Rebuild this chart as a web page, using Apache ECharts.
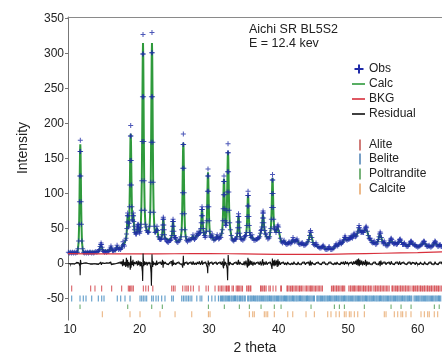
<!DOCTYPE html>
<html>
<head>
<meta charset="utf-8">
<script src="https://cdn.jsdelivr.net/npm/echarts@6/dist/echarts.min.js"></script>
<style>
html, body { margin: 0; padding: 0; background: #fff; }
#chart { width: 442px; height: 360px; }
</style>
</head>
<body>
<div id="chart"></div>
<script>
// observed intensity [2theta, counts]
const obsPoints = [
  [9.75,16],[9.9,15],[10.05,16],[10.2,15],[10.35,16],[10.5,15],[10.65,16],[10.8,15],[10.95,16],[11.05,16],
  [11.13,21],[11.23,32],[11.3,56],[11.35,88],[11.39,125],[11.43,160],[11.47,176],[11.51,160],[11.55,125],[11.59,88],[11.64,56],[11.71,32],[11.81,21],
  [11.92,16],[12.05,15],[12.2,16],[12.35,15],[12.5,16],[12.65,15],[12.8,16],[12.95,16],[13.1,15],[13.25,16],[13.4,15],[13.55,16],[13.7,17],[13.85,16],[14.0,17],[14.12,18],
  [14.22,20],[14.32,24],[14.4,27],[14.46,29],[14.53,27],[14.6,23],[14.68,19],
  [14.8,17],[14.95,16],[15.1,17],[15.25,16],[15.4,17],[15.55,17],[15.68,19],
  [15.78,22],[15.88,25],[15.98,22],
  [16.1,18],[16.25,18],[16.4,19],[16.55,19],
  [16.67,22],[16.76,26],[16.85,23],
  [16.98,20],[17.12,21],[17.26,20],[17.4,22],
  [17.52,25],[17.61,31],[17.7,27],
  [17.82,25],[17.95,33],[18.05,36],
  [18.12,42],[18.17,50],[18.21,59],[18.25,68],[18.29,72],[18.33,68],[18.37,59],[18.42,52],
  [18.48,57],[18.55,81],[18.6,112],[18.64,147],[18.68,182],[18.72,197],[18.76,182],[18.8,147],[18.84,112],[18.89,81],[18.95,62],
  [19.0,62],[19.05,68],[19.09,72],[19.13,68],[19.17,60],[19.21,53],[19.26,48],[19.33,44],[19.43,42],
  [19.55,42],[19.62,45],[19.67,49],[19.71,52],[19.74,55],[19.77,56],[19.81,55],[19.85,52],[19.89,49],[19.94,45],[20.01,43],
  [20.07,46],[20.13,51],[20.18,56],[20.25,76],[20.32,118],[20.37,174],[20.41,238],[20.45,299],[20.49,327],[20.53,299],[20.57,238],[20.61,174],[20.66,118],[20.73,76],[20.83,56],
  [20.93,52],[21.03,47],[21.13,45],[21.23,44],[21.33,45],
  [21.44,53],[21.54,73],[21.61,116],[21.66,173],[21.7,238],[21.74,301],[21.78,330],[21.82,301],[21.86,238],[21.9,173],[21.95,116],[22.02,73],[22.12,53],
  [22.22,44],[22.32,45],
  [22.42,48],[22.5,53],[22.58,47],
  [22.7,38],[22.85,35],[22.97,34],[23.07,34],
  [23.17,36],[23.24,41],[23.29,48],[23.33,55],[23.37,63],[23.41,66],[23.45,63],[23.49,55],[23.53,48],[23.58,41],[23.65,36],[23.75,34],
  [23.87,32],[24.0,31],[24.12,30],[24.25,32],[24.37,33],
  [24.47,33],[24.57,35],[24.64,40],[24.69,46],[24.73,53],[24.77,60],[24.81,63],[24.85,60],[24.89,53],[24.93,46],[24.98,40],[25.05,37],
  [25.15,37],[25.22,36],[25.35,31],[25.5,30],[25.65,32],[25.8,34],
  [25.95,38],[26.05,48],[26.12,71],[26.17,101],[26.21,136],[26.25,170],[26.29,185],[26.33,170],[26.37,136],[26.41,101],[26.46,71],[26.53,48],[26.63,38],
  [26.75,33],[26.88,31],[27.0,33],[27.12,35],[27.25,33],[27.4,34],
  [27.58,37],[27.68,41],[27.78,36],
  [27.9,34],[28.02,36],
  [28.16,39],[28.26,43],[28.36,40],
  [28.47,42],[28.55,46],[28.63,43],
  [28.74,44],[28.81,50],[28.86,58],[28.9,68],[28.94,77],[28.98,81],[29.02,77],[29.06,68],[29.1,58],[29.15,50],[29.22,44],[29.32,40],
  [29.42,37],[29.5,39],[29.6,46],[29.67,61],[29.72,81],[29.76,103],[29.8,125],[29.84,135],[29.88,125],[29.92,103],[29.96,81],[30.01,61],[30.08,46],[30.18,39],
  [30.28,37],[30.36,39],[30.44,42],[30.53,37],
  [30.68,33],[30.85,34],[31.0,36],
  [31.08,38],[31.16,41],[31.26,37],[31.38,35],
  [31.5,36],[31.58,39],[31.68,37],
  [31.8,43],[31.9,48],[31.97,61],[32.02,78],[32.06,98],[32.1,117],[32.14,125],[32.18,117],[32.22,98],[32.26,78],[32.31,61],[32.38,55],
  [32.43,54],[32.48,58],[32.55,76],[32.6,102],[32.64,131],[32.68,158],[32.72,171],[32.76,158],[32.8,131],[32.84,102],[32.89,76],[32.96,58],[33.06,48],[33.18,40],
  [33.3,35],[33.42,33],[33.55,32],[33.68,34],[33.8,35],
  [33.89,35],[33.99,38],[34.06,43],[34.11,51],[34.15,59],[34.19,67],[34.23,71],[34.27,67],[34.31,59],[34.35,51],[34.4,43],[34.47,38],[34.57,35],
  [34.7,34],[34.85,33],
  [35.0,35],[35.1,38],[35.18,39],
  [35.26,40],[35.36,44],[35.43,54],[35.48,67],[35.52,82],[35.56,97],[35.6,103],[35.64,97],[35.68,82],[35.72,67],[35.77,54],[35.84,44],[35.94,40],
  [36.05,37],[36.17,41],[36.28,36],
  [36.45,33],[36.62,33],[36.8,34],
  [36.95,35],[37.04,37],[37.14,36],
  [37.28,38],[37.38,43],[37.46,47],
  [37.52,48],[37.59,52],[37.64,58],[37.68,65],[37.72,72],[37.76,75],[37.8,72],[37.84,65],[37.88,58],[37.93,52],[38.0,47],
  [38.1,42],[38.19,42],[38.3,38],
  [38.45,35],[38.6,36],[38.7,38],
  [38.78,44],[38.88,50],[38.95,63],[39.0,80],[39.04,100],[39.08,119],[39.12,127],[39.16,119],[39.2,100],[39.24,80],[39.29,63],[39.36,52],
  [39.44,48],[39.5,49],
  [39.62,44],[39.73,48],[39.83,53],[39.91,55],[39.99,52],[40.1,44],[40.25,36],
  [40.4,31],[40.55,29],
  [40.68,31],[40.78,33],[40.88,30],
  [41.02,28],[41.18,27],[41.32,28],
  [41.42,29],[41.5,31],[41.6,29],
  [41.75,28],[41.88,30],
  [41.97,33],[42.07,37],[42.17,34],
  [42.3,31],[42.45,32],
  [42.56,33],[42.65,35],[42.75,32],
  [42.9,28],[43.05,27],[43.2,28],
  [43.3,28],[43.38,30],[43.48,28],
  [43.62,26],[43.78,26],[43.92,27],[44.05,29],[44.2,31],
  [44.35,34],[44.45,40],[44.53,45],[44.59,47],[44.66,44],[44.78,37],[44.92,30],
  [45.05,27],[45.2,26],
  [45.3,27],[45.38,29],[45.48,27],
  [45.62,24],[45.78,23],[45.92,22],[46.08,22],[46.22,23],
  [46.32,24],[46.4,26],[46.5,24],
  [46.65,21],[46.8,20],[46.95,20],[47.1,21],
  [47.18,22],[47.26,24],[47.35,22],
  [47.5,20],[47.65,20],[47.8,21],[47.95,22],[48.08,24],
  [48.18,26],[48.27,28],[48.36,26],
  [48.5,25],[48.62,27],
  [48.74,29],[48.83,32],[48.92,29],
  [49.05,28],[49.18,30],[49.3,32],
  [49.4,34],[49.48,37],[49.55,39],[49.62,37],[49.72,34],
  [49.85,33],
  [50.02,34],[50.13,37],[50.22,35],
  [50.3,36],
  [50.36,37],[50.42,39],[50.5,37],
  [50.6,36],
  [50.7,38],[50.78,41],[50.85,43],[50.93,41],[51.05,38],
  [51.18,39],[51.3,43],
  [51.4,46],[51.5,51],[51.57,54],[51.64,51],[51.74,47],
  [51.85,44],
  [51.93,45],[52.0,46],[52.1,44],
  [52.22,44],[52.32,47],
  [52.42,49],[52.5,51],[52.58,53],[52.65,51],[52.76,46],
  [52.9,40],[53.02,36],
  [53.1,35],[53.18,36],[53.28,33],
  [53.42,30],[53.55,29],
  [53.65,30],[53.74,32],[53.84,29],
  [53.98,27],[54.12,28],[54.25,31],
  [54.35,34],[54.44,38],[54.52,42],[54.6,45],[54.67,43],[54.78,37],[54.92,31],
  [55.05,28],
  [55.12,30],[55.19,32],[55.28,29],
  [55.42,26],[55.58,25],[55.72,26],[55.85,28],
  [55.95,30],[56.05,33],[56.13,35],[56.2,36],[56.28,34],[56.4,30],
  [56.52,28],
  [56.66,28],[56.75,30],[56.85,28],
  [56.98,27],[57.1,28],
  [57.22,30],[57.32,32],[57.41,34],[57.48,35],[57.56,33],[57.68,30],
  [57.82,27],[57.95,27],
  [58.02,28],[58.1,29],[58.2,27],
  [58.35,25],[58.5,24],[58.65,25],[58.8,27],
  [58.88,29],[58.97,31],[59.05,32],[59.12,31],[59.22,29],
  [59.35,27],
  [59.55,26],[59.64,27],[59.74,25],
  [59.88,24],[60.02,23],[60.16,24],[60.3,25],[60.45,26],
  [60.62,27],[60.72,29],[60.82,31],[60.9,32],[60.98,31],[61.1,28],
  [61.25,25],[61.4,24],
  [61.56,25],[61.65,26],[61.75,24],
  [61.9,23],[62.05,24],[62.2,26],
  [62.3,28],[62.4,30],[62.48,32],[62.56,31],[62.66,29],[62.78,26],
  [62.92,24],[63.05,25],
  [63.15,26],[63.23,27],[63.32,25],
  [63.45,24],[63.6,24]
];

// calculated profile
const calcPoints = [
  [9.75,15.5],[11.05,16],
  [11.13,20],[11.23,31],[11.3,55],[11.35,88],[11.39,126],[11.43,158],[11.47,170],[11.51,156],[11.55,122],[11.59,86],[11.64,55],[11.71,31],[11.81,20],
  [11.92,16],[14.12,17],
  [14.22,20],[14.32,23],[14.4,26],[14.46,28],[14.53,26],[14.6,22],[14.68,18.5],
  [14.8,16.5],[15.68,18],
  [15.78,21],[15.88,24],[15.98,21],
  [16.1,18],[16.55,18.5],
  [16.67,21],[16.76,25],[16.85,22],
  [16.98,19.5],[17.4,21],
  [17.52,25],[17.61,29],[17.7,26],
  [17.82,25],[17.95,32],[18.05,35],
  [18.12,41],[18.17,49],[18.21,58],[18.25,66],[18.29,70],[18.33,66],[18.37,58],[18.42,51],
  [18.48,56],[18.55,80],[18.6,112],[18.64,146],[18.68,176],[18.72,185],[18.76,174],[18.8,144],[18.84,110],[18.89,80],[18.95,61],
  [19.0,61],[19.05,67],[19.09,70],[19.13,66],[19.17,59],[19.21,52],[19.26,47],[19.33,43],[19.43,41],
  [19.55,41],[19.62,44],[19.67,48],[19.71,51],[19.74,53],[19.77,54],[19.81,53],[19.85,51],[19.89,48],[19.94,44],[20.01,42],
  [20.07,45],[20.13,50],[20.18,57],[20.25,79],[20.32,122],[20.37,178],[20.41,238],[20.45,292],[20.49,315],[20.53,292],[20.57,236],[20.61,176],[20.66,120],[20.73,78],[20.83,56],
  [20.93,51],[21.03,46],[21.13,44],[21.23,43],[21.33,44],
  [21.44,54],[21.54,75],[21.61,120],[21.66,178],[21.7,240],[21.74,292],[21.78,315],[21.82,292],[21.86,238],[21.9,176],[21.95,118],[22.02,74],[22.12,53],
  [22.22,43],[22.32,44],
  [22.42,47],[22.5,51],[22.58,46],
  [22.7,37],[23.07,34],
  [23.17,36],[23.24,41],[23.29,47],[23.33,54],[23.37,61],[23.41,64],[23.45,61],[23.49,54],[23.53,47],[23.58,40],[23.65,36],[23.75,34],
  [24.37,33],
  [24.47,33],[24.57,35],[24.64,40],[24.69,46],[24.73,52],[24.77,58],[24.81,61],[24.85,58],[24.89,52],[24.93,45],[24.98,40],[25.05,37],
  [25.15,36],[25.22,35],[25.35,31],[25.8,33],
  [25.95,38],[26.05,48],[26.12,70],[26.17,100],[26.21,134],[26.25,162],[26.29,172],[26.33,162],[26.37,132],[26.41,99],[26.46,70],[26.53,48],[26.63,38],
  [26.75,33],[27.4,34],
  [27.58,36],[27.68,40],[27.78,35],
  [27.9,34],[28.02,35],
  [28.16,38],[28.26,42],[28.36,39],
  [28.47,41],[28.55,45],[28.63,42],
  [28.74,43],[28.81,49],[28.86,57],[28.9,66],[28.94,74],[28.98,78],[29.02,74],[29.06,66],[29.1,57],[29.15,49],[29.22,43],[29.32,39],
  [29.42,37],[29.5,39],[29.6,46],[29.67,61],[29.72,82],[29.76,104],[29.8,123],[29.84,130],[29.88,122],[29.92,101],[29.96,80],[30.01,60],[30.08,46],[30.18,39],
  [30.28,36],[30.36,38],[30.44,41],[30.53,36],
  [30.68,33],[31.0,35],
  [31.08,37],[31.16,40],[31.26,36],[31.38,34],
  [31.5,35],[31.58,38],[31.68,36],
  [31.8,42],[31.9,48],[31.97,61],[32.02,79],[32.06,99],[32.1,116],[32.14,121],[32.18,114],[32.22,96],[32.26,77],[32.31,61],[32.38,55],
  [32.43,54],[32.48,58],[32.55,77],[32.6,103],[32.64,130],[32.68,152],[32.72,160],[32.76,150],[32.8,127],[32.84,100],[32.89,75],[32.96,58],[33.06,48],[33.18,40],
  [33.3,35],[33.55,32],[33.8,35],
  [33.89,35],[33.99,38],[34.06,43],[34.11,50],[34.15,58],[34.19,65],[34.23,68],[34.27,65],[34.31,58],[34.35,50],[34.4,43],[34.47,38],[34.57,35],
  [34.7,34],[34.85,33],
  [35.0,35],[35.1,37],[35.18,38],
  [35.26,40],[35.36,44],[35.43,54],[35.48,66],[35.52,80],[35.56,93],[35.6,98],[35.64,93],[35.68,80],[35.72,66],[35.77,54],[35.84,44],[35.94,40],
  [36.05,36],[36.17,40],[36.28,35],
  [36.45,33],[36.8,34],
  [36.95,35],[37.04,36],[37.14,35],
  [37.28,38],[37.38,42],[37.46,46],
  [37.52,47],[37.59,51],[37.64,57],[37.68,64],[37.72,70],[37.76,72],[37.8,70],[37.84,64],[37.88,57],[37.93,51],[38.0,46],
  [38.1,41],[38.19,41],[38.3,37],
  [38.45,35],[38.7,37],
  [38.78,44],[38.88,50],[38.95,63],[39.0,80],[39.04,99],[39.08,116],[39.12,122],[39.16,115],[39.2,97],[39.24,78],[39.29,62],[39.36,51],
  [39.44,47],[39.5,48],
  [39.62,44],[39.73,47],[39.83,52],[39.91,53],[39.99,51],[40.1,43],[40.25,35],
  [40.4,30],[40.55,29],
  [40.68,30],[40.78,32],[40.88,30],[41.18,27.5],[41.42,29],[41.5,30],[41.6,28.5],[41.88,29.5],
  [41.97,33],[42.07,35],[42.17,33],[42.3,31],[42.45,31.5],[42.56,33],[42.65,34],[42.75,32],[42.9,28.5],
  [43.2,28],[43.3,28],[43.38,29],[43.48,27.5],[43.78,26.5],[44.05,28.5],[44.2,30.5],
  [44.35,34],[44.45,40],[44.53,44],[44.59,45],[44.66,43],[44.78,37],[44.92,30],
  [45.2,26],[45.3,27],[45.38,28],[45.48,26.5],[45.78,23],[46.08,22.5],[46.22,23],
  [46.32,24],[46.4,25],[46.5,23.5],[46.8,20.5],[47.1,21],[47.18,22],[47.26,23],[47.35,21.5],
  [47.65,20.5],[47.95,22],[48.08,24],[48.18,26],[48.27,27],[48.36,25.5],[48.5,25],[48.62,27],
  [48.74,29],[48.83,31],[48.92,29],[49.05,28],[49.3,31.5],
  [49.4,34],[49.48,36.5],[49.55,38],[49.62,36.5],[49.72,34],[49.85,33],
  [50.02,34],[50.13,36],[50.22,35],[50.3,35.5],[50.36,36.5],[50.42,38],[50.5,36.5],[50.6,36],
  [50.7,38],[50.78,40],[50.85,42],[50.93,40.5],[51.05,38],[51.18,39],[51.3,42],
  [51.4,45],[51.5,50],[51.57,52],[51.64,50],[51.74,46.5],[51.85,44],
  [51.93,44.5],[52.0,45],[52.1,44],[52.22,44],[52.32,46.5],
  [52.42,48.5],[52.5,50],[52.58,51],[52.65,50],[52.76,45.5],[52.9,40],[53.02,36],
  [53.1,35],[53.18,35.5],[53.28,33],[53.55,29],[53.65,30],[53.74,31],[53.84,29],[53.98,27.5],[54.25,30.5],
  [54.35,34],[54.44,38],[54.52,41.5],[54.6,43.5],[54.67,42],[54.78,37],[54.92,31],
  [55.05,28.5],[55.12,30],[55.19,31],[55.28,29],[55.58,25.5],[55.85,28],
  [55.95,30],[56.05,33],[56.13,34.5],[56.2,35],[56.28,33.5],[56.4,30],[56.52,28.5],
  [56.66,28],[56.75,29.5],[56.85,28],[57.1,28],
  [57.22,30],[57.32,32],[57.41,33.5],[57.48,34],[57.56,32.5],[57.68,30],[57.82,27.5],
  [58.02,28],[58.1,28.5],[58.2,27],[58.5,24.5],[58.8,27],
  [58.88,29],[58.97,30.5],[59.05,31],[59.12,30.5],[59.22,29],[59.35,27],
  [59.55,26],[59.64,26.5],[59.74,25],[60.02,23.5],[60.3,25],[60.45,26],
  [60.62,27],[60.72,29],[60.82,30.5],[60.9,31],[60.98,30.5],[61.1,28],[61.25,25.5],[61.4,24.5],
  [61.56,25],[61.65,25.5],[61.75,24],[61.9,23.5],[62.2,26],
  [62.3,28],[62.4,30],[62.48,31],[62.56,30.5],[62.66,29],[62.78,26.5],[62.92,24.5],
  [63.05,25],[63.15,26],[63.23,26.5],[63.32,25],[63.6,24.5]
];

// background
const bkgPoints = [
  [9.7,14],[15,13.5],[20,13.5],[25,13.8],[30,14],[35,13.5],[40,13],[45,13],[50,13.5],[55,14.5],[60,15.5],[64,16.5]
];

// obs - calc
const diffPoints = [
  [9.75,0],[9.9,1],[10.05,-1],[10.2,0.5],[10.35,-0.5],[10.5,1],[10.65,-1],[10.8,0],[10.95,1.5],[11.1,-0.5],
  [11.25,1],[11.35,3],[11.42,-4],[11.45,-17],[11.47,-8],[11.49,5],[11.53,3],[11.6,-1],[11.7,1],[11.85,-1],
  [12.0,0.5],[12.15,-1],[12.3,1],[12.45,-1.5],[12.6,0],[12.75,1],[12.9,-1],[13.05,0.5],[13.2,-1],[13.35,1],
  [13.5,-0.5],[13.65,1],[13.8,-1],[13.95,0.5],[14.1,-1.5],[14.25,1],[14.4,2],[14.5,-2],[14.62,1],[14.8,-1],
  [14.95,0],[15.1,-1],[15.25,1],[15.4,-0.5],[15.55,0.5],[15.7,-1],[15.85,2],[15.95,-2],[16.1,0.5],[16.25,-1],
  [16.4,1],[16.55,-0.5],[16.7,2],[16.8,-2],[16.95,1],[17.1,-1],[17.25,2],[17.35,-1],[17.45,3],[17.55,-4],
  [17.65,6],[17.75,-3],[17.9,2],[18.0,-5],[18.1,8],[18.2,-4],[18.27,5],[18.33,-6],[18.45,2],[18.6,-3],
  [18.66,-9],[18.7,6],[18.73,11],[18.76,-6],[18.85,3],[18.95,-2],[19.05,5],[19.12,-4],[19.25,2],[19.4,-1],
  [19.55,3],[19.7,-3],[19.8,4],[19.9,-2],[20.05,3],[20.15,-4],[20.25,2],[20.33,-6],[20.4,-12],[20.44,-25],
  [20.47,-8],[20.5,14],[20.54,6],[20.6,-4],[20.7,3],[20.8,-2],[20.95,2],[21.1,-3],[21.2,2],[21.35,-1],
  [21.48,2],[21.58,-5],[21.65,-14],[21.7,-32],[21.74,-10],[21.78,13],[21.82,5],[21.88,-5],[21.95,3],[22.05,-2],
  [22.2,1],[22.35,-3],[22.45,4],[22.55,-2],[22.7,1],[22.85,-1],[23.0,2],[23.15,-2],[23.3,5],[23.38,-6],
  [23.45,3],[23.55,-1],[23.7,2],[23.85,-1],[24.0,1],[24.15,-2],[24.3,1],[24.45,-1],[24.6,3],[24.7,-4],
  [24.8,5],[24.9,-2],[25.05,1],[25.2,-2],[25.35,1],[25.5,-1],[25.65,2],[25.8,-1],[25.95,1],[26.1,-2],
  [26.2,-6],[26.26,4],[26.29,11],[26.33,2],[26.4,-3],[26.5,1],[26.65,-1],[26.8,2],[26.95,-2],[27.1,1],
  [27.25,-1],[27.4,2],[27.55,-2],[27.7,3],[27.85,-2],[28.0,1],[28.15,-2],[28.3,2],[28.45,-1],[28.6,3],
  [28.75,-2],[28.9,-4],[28.98,4],[29.05,-2],[29.2,1],[29.35,-1],[29.5,2],[29.65,-3],[29.75,-6],[29.8,-14],
  [29.86,4],[29.95,-2],[30.1,1],[30.25,-1],[30.4,2],[30.55,-2],[30.7,1],[30.85,-1],[31.0,2],[31.15,-2],
  [31.3,1],[31.45,-1],[31.6,2],[31.75,-2],[31.9,3],[32.0,-4],[32.08,-7],[32.13,7],[32.2,-3],[32.35,2],
  [32.5,-3],[32.6,-8],[32.66,-24],[32.7,-6],[32.74,12],[32.8,3],[32.9,-3],[33.0,2],[33.15,-1],[33.3,1],
  [33.45,-2],[33.6,1],[33.75,-1],[33.9,2],[34.05,-2],[34.15,-4],[34.22,5],[34.3,-2],[34.45,2],[34.6,-1],
  [34.75,1],[34.9,-2],[35.05,3],[35.15,-3],[35.3,4],[35.42,-2],[35.52,-6],[35.58,8],[35.63,-4],[35.7,6],
  [35.8,-3],[35.95,4],[36.05,-2],[36.15,3],[36.3,-3],[36.45,2],[36.6,-2],[36.75,1],[36.9,-1],[37.05,2],
  [37.2,-2],[37.35,3],[37.5,-3],[37.62,-5],[37.7,6],[37.78,-3],[37.9,2],[38.05,-2],[38.2,3],[38.35,-2],
  [38.5,1],[38.65,-1],[38.8,2],[38.95,-3],[39.05,-8],[39.1,7],[39.15,-3],[39.25,4],[39.35,-4],[39.45,5],
  [39.55,-3],[39.7,4],[39.8,-5],[39.9,6],[40.0,-3],[40.12,3],[40.25,-2],[40.4,1],
  [40.55,-1.5],[40.7,2],[40.85,-2],[41.0,1],[41.15,-2.5],[41.3,2],[41.45,-1],[41.6,1.5],[41.75,-2],[41.9,1],
  [42.05,-2],[42.2,2.5],[42.35,-1],[42.5,1],[42.65,-2],[42.8,2],[42.95,-1.5],[43.1,1],[43.25,-2],[43.4,1.5],
  [43.55,-1],[43.7,2],[43.85,-2],[44.0,1],[44.15,-1],[44.3,2],[44.45,-3],[44.55,4],[44.65,-3],[44.8,2],
  [44.95,-1],[45.1,1.5],[45.25,-2],[45.4,1],[45.55,-1.5],[45.7,2],[45.85,-1],[46.0,1],[46.15,-2],[46.3,1.5],
  [46.45,-1],[46.6,2],[46.75,-1.5],[46.9,1],[47.05,-2],[47.2,1.5],[47.35,-1],[47.5,2],[47.65,-1],[47.8,1],
  [47.95,-2],[48.1,1.5],[48.25,-2],[48.4,2],[48.55,-1],[48.7,1],[48.85,-2],[49.0,2],[49.15,-1],[49.3,2.5],
  [49.45,-2],[49.6,3],[49.75,-1],[49.9,2],[50.05,-2],[50.2,1],[50.35,-1],[50.5,2],[50.65,-2],[50.8,3],
  [50.95,-1],[51.1,4],[51.2,-2],[51.3,6],[51.4,-3],[51.5,7],[51.6,-4],[51.7,5],[51.82,-2],[51.95,4],
  [52.08,-3],[52.2,3],[52.35,-2],[52.5,5],[52.6,-4],[52.72,3],[52.85,-2],[53.0,2],[53.15,-1.5],[53.3,1],
  [53.45,-2],[53.6,1.5],[53.75,-1],[53.9,2],[54.05,-1.5],[54.2,1],[54.35,-2],[54.5,3],[54.6,-4],[54.7,4],
  [54.85,-2],[55.0,1.5],[55.15,-1],[55.3,2],[55.45,-2],[55.6,1],[55.75,-1],[55.9,2],[56.05,-2],[56.2,3],
  [56.35,-1],[56.5,1],[56.65,-2],[56.8,1.5],[56.95,-1],[57.1,2],[57.25,-2],[57.4,3],[57.55,-2],[57.7,1],
  [57.85,-1.5],[58.0,2],[58.15,-1],[58.3,1],[58.45,-2],[58.6,1.5],[58.75,-1],[58.9,2],[59.05,-2],[59.2,1.5],
  [59.35,-1],[59.5,1],[59.65,-2],[59.8,2],[59.95,-1],[60.1,1],[60.25,-1.5],[60.4,2],[60.55,-1],[60.7,1],
  [60.85,-2],[61.0,2.5],[61.15,-1],[61.3,1],[61.45,-2],[61.6,1.5],[61.75,-1],[61.9,2],[62.05,-1.5],[62.2,1],
  [62.35,-2],[62.5,2.5],[62.65,-1],[62.8,1],[62.95,-2],[63.1,1.5],[63.25,-1],[63.4,2],[63.55,-1.5]
];

// reflection positions (2theta)
const aliteTicks = [
  10.23,12.96,13.58,14.54,15.98,17.42,18.38,18.55,18.72,18.9,19.1,20.54,20.89,21.26,21.9,24.62,24.86,25.1,
  26.2,26.54,26.8,27.01,27.36,27.73,28.55,29.56,29.89,30.85,31.33,31.57,
  31.8,32.0,32.3,32.5,32.6,32.8,32.9,33.3,33.5,33.9,34.1,34.2,34.4,34.6,34.8,35.4,35.6,35.7,35.9,36.0,
  37.4,37.5,37.7,37.9,38.0,38.2,38.6,38.8,39.2,39.6,
  40.3,40.4,41.2,41.3,41.5,41.7,41.9,42.0,42.2,42.4,42.6,42.8,43.0,43.1,43.3,43.5,43.8,44.0,44.2,44.4,
  44.6,44.7,44.9,45.1,45.3,45.5,45.7,45.9,46.1,46.3,
  47.6,47.8,47.9,48.1,48.3,48.4,48.6,48.8,49.0,49.2,49.3,49.5,
  50.1,50.3,50.4,50.6,50.8,50.9,51.1,51.3,51.5,51.6,51.8,52.0,52.2,52.3,52.5,52.7,52.9,53.0,53.2,53.4,
  53.7,53.9,54.0,54.2,54.4,54.6,54.7,54.9,55.1,55.3,55.5,55.7,55.9,
  56.3,56.4,56.6,56.8,57.0,57.1,57.3,57.5,57.6,57.8,58.0,58.2,58.3,58.5,58.7,58.9,
  59.2,59.4,59.5,59.7,59.9,60.0,60.2,60.4,60.5,60.7,60.9,61.0,61.2,61.4,61.5,61.7,61.9,62.0,62.2,62.4,
  62.5,62.7,62.9,63.0,63.2,63.4
];
const beliteTicks = [
  10.23,11.43,11.9,12.29,13.11,14.06,14.55,14.88,16.79,17.28,17.9,18.62,20.06,20.3,20.53,20.78,21.02,
  21.74,21.97,22.36,22.69,23.18,23.65,24.62,24.85,26.06,26.3,26.54,26.79,27.02,27.26,27.51,28.23,28.7,
  28.95,29.9,30.39,30.86,31.34,
  31.62,31.8,31.95,32.12,32.3,32.45,32.62,32.8,32.95,33.15,33.3,33.48,33.65,33.8,34.0,34.15,34.35,34.5,
  34.7,34.85,35.05,35.2,35.55,35.7,35.9,36.05,36.2,36.38,36.55,36.7,36.88,37.02,37.2,37.35,37.52,37.7,
  37.85,38.02,38.18,38.35,38.5,38.68,38.85,39.0,39.18,39.35,39.5,39.68,39.85,40.0,40.18,40.35,40.5,40.68,
  40.85,41.0,41.15,41.32,41.5,41.65,41.82,42.0,42.15,42.32,42.5,42.65,42.82,43.0,43.15,43.32,43.48,43.65,
  43.82,44.0,44.15,44.32,44.48,44.65,44.82,45.0,45.15,45.5,45.65,45.82,46.0,46.15,46.32,46.5,46.65,
  46.82,47.0,47.15,47.32,47.48,47.65,47.82,48.0,48.15,48.32,48.5,48.65,48.82,49.0,49.15,49.32,49.48,49.65,
  49.82,50.0,50.15,50.32,50.5,50.65,50.82,51.0,51.15,51.32,51.48,51.65,51.82,52.0,52.15,52.32,52.5,52.65,
  52.82,53.0,53.15,53.32,53.48,53.65,53.82,54.0,54.15,54.32,54.5,54.65,54.82,55.0,55.15,55.32,55.48,55.65,
  55.82,56.0,56.15,56.32,56.5,56.65,56.82,57.0,57.15,57.32,57.48,57.65,57.82,58.0,58.15,58.32,58.5,58.65,
  58.82,59.0,59.15,59.48,59.65,59.82,60.0,60.15,60.32,60.5,60.65,60.82,61.0,61.15,61.32,61.48,61.65,
  61.82,62.0,62.15,62.32,62.5,62.65,62.82,63.0,63.15,63.32
];
const poltranditeTicks = [
  11.43,18.29,21.74,23.27,29.9,32.19,34.35,35.79,37.47,39.38,40.35,44.66,48.02,48.74,49.46,52.33,56.17,
  57.61,59.05,62.4,63.1
];
const calciteTicks = [
  14.64,18.62,20.06,22.94,25.1,27.5,29.9,30.13,35.79,36.27,36.5,37.94,38.19,38.43,39.38,41.31,42.03,
  43.94,45.14,47.06,47.53,48.25,48.73,49.45,49.7,50.17,50.41,50.89,51.38,52.33,55.2,55.45,56.64,57.13,
  57.6,57.84,58.32,59.04,60.48,60.96,61.44,61.67,62.39,62.88
];

const xTickValues = [10, 20, 30, 40, 50, 60];
const yTickValues = [-50, 0, 50, 100, 150, 200, 250, 300, 350];

const FONT = '"Liberation Sans", Arial, sans-serif';
const plusPath = 'path://M2,0L3,0L3,2L5,2L5,3L3,3L3,5L2,5L2,3L0,3L0,2L2,2Z';
const X_MIN = 9.7, X_MAX = 63.5;

const tickSeries = (name, ticks, level, color, h) => ({
  name: name,
  type: 'scatter',
  data: ticks.map(t => [t, level]),
  symbol: 'rect',
  symbolSize: [1.1, h],
  itemStyle: { color: color },
  silent: true,
  z: 4
});

const chart = echarts.init(document.getElementById('chart'));
chart.setOption({
  animation: false,
  backgroundColor: '#fff',
  grid: { left: 68, right: 0, top: 17, bottom: 32 },
  xAxis: [
    {
      type: 'value',
      min: X_MIN, max: X_MAX,
      name: '2 theta',
      nameLocation: 'middle',
      nameGap: 17,
      nameTextStyle: { fontFamily: FONT, fontSize: 14, color: '#222' },
      axisLine: { show: true, lineStyle: { color: '#777' } },
      axisTick: { show: true, length: 3, customValues: xTickValues, lineStyle: { color: '#777' } },
      axisLabel: { customValues: xTickValues, margin: 4, fontFamily: FONT, fontSize: 12, color: '#222' },
      splitLine: { show: false }
    },
    {
      type: 'value', position: 'top',
      min: X_MIN, max: X_MAX,
      axisLine: { show: true, lineStyle: { color: '#8a8a8a' } },
      axisTick: { show: false }, axisLabel: { show: false }, splitLine: { show: false }
    }
  ],
  yAxis: {
    type: 'value',
    min: -81, max: 352,
    axisLine: { show: true, lineStyle: { color: '#777' } },
    axisTick: { show: true, length: 3, customValues: yTickValues, lineStyle: { color: '#777' } },
    axisLabel: { customValues: yTickValues, margin: 4, fontFamily: FONT, fontSize: 12, color: '#222' },
    splitLine: { show: false }
  },
  series: [
    {
      name: 'Calc', type: 'line', data: calcPoints, showSymbol: false,
      lineStyle: { color: '#2f9a3c', width: 2 }, z: 2, silent: true
    },
    {
      name: 'Obs', type: 'scatter', data: obsPoints, symbol: plusPath, symbolSize: 5,
      itemStyle: { color: '#1f2da6' }, z: 3, silent: true
    },
    {
      name: 'BKG', type: 'line', data: bkgPoints, showSymbol: false, smooth: true,
      lineStyle: { color: '#d8303c', width: 1.2 }, z: 4, silent: true
    },
    {
      name: 'Residual', type: 'line', data: diffPoints, showSymbol: false,
      lineStyle: { color: '#111', width: 1.1 }, z: 4, silent: true
    },
    tickSeries('Alite', aliteTicks, -36, '#cf3a40', 6),
    tickSeries('Belite', beliteTicks, -50, '#3582bb', 6),
    tickSeries('Poltrandite', poltranditeTicks, -62, '#4a9a4e', 4.5),
    tickSeries('Calcite', calciteTicks, -72.5, '#e6a263', 6)
  ],
  graphic: [
    { type: 'text', x: 23, y: 148, rotation: Math.PI / 2,
      style: { text: 'Intensity', font: '14px ' + FONT, fill: '#222', align: 'center', verticalAlign: 'middle' } },
    { type: 'text', x: 249, y: 30,
      style: { text: 'Aichi SR BL5S2', font: '12.5px ' + FONT, fill: '#222', verticalAlign: 'middle' } },
    { type: 'text', x: 249, y: 44,
      style: { text: 'E = 12.4 kev', font: '12.5px ' + FONT, fill: '#222', verticalAlign: 'middle' } },

    { type: 'line', shape: { x1: 354.5, y1: 69, x2: 363.5, y2: 69 }, style: { stroke: '#1f2aa8', lineWidth: 2 } },
    { type: 'line', shape: { x1: 359, y1: 64.5, x2: 359, y2: 73.5 }, style: { stroke: '#1f2aa8', lineWidth: 2 } },
    { type: 'text', x: 369, y: 69, style: { text: 'Obs', font: '12px ' + FONT, fill: '#222', verticalAlign: 'middle' } },
    { type: 'line', shape: { x1: 352, y1: 84, x2: 365, y2: 84 }, style: { stroke: '#2f9a3c', lineWidth: 1.6 } },
    { type: 'text', x: 369, y: 84, style: { text: 'Calc', font: '12px ' + FONT, fill: '#222', verticalAlign: 'middle' } },
    { type: 'line', shape: { x1: 352, y1: 99, x2: 365, y2: 99 }, style: { stroke: '#d8303c', lineWidth: 1.6 } },
    { type: 'text', x: 369, y: 99, style: { text: 'BKG', font: '12px ' + FONT, fill: '#222', verticalAlign: 'middle' } },
    { type: 'line', shape: { x1: 352, y1: 114, x2: 365, y2: 114 }, style: { stroke: '#111', lineWidth: 1.6 } },
    { type: 'text', x: 369, y: 114, style: { text: 'Residual', font: '12px ' + FONT, fill: '#222', verticalAlign: 'middle' } },

    { type: 'line', shape: { x1: 360, y1: 139.5, x2: 360, y2: 150.5 }, style: { stroke: '#c0504d', lineWidth: 1.5 } },
    { type: 'text', x: 369, y: 145, style: { text: 'Alite', font: '12px ' + FONT, fill: '#222', verticalAlign: 'middle' } },
    { type: 'line', shape: { x1: 360, y1: 153.5, x2: 360, y2: 164.5 }, style: { stroke: '#4a7fb3', lineWidth: 1.5 } },
    { type: 'text', x: 369, y: 159, style: { text: 'Belite', font: '12px ' + FONT, fill: '#222', verticalAlign: 'middle' } },
    { type: 'line', shape: { x1: 360, y1: 168.5, x2: 360, y2: 179.5 }, style: { stroke: '#4a9a4e', lineWidth: 1.5 } },
    { type: 'text', x: 369, y: 174, style: { text: 'Poltrandite', font: '12px ' + FONT, fill: '#222', verticalAlign: 'middle' } },
    { type: 'line', shape: { x1: 360, y1: 183.5, x2: 360, y2: 194.5 }, style: { stroke: '#e6a263', lineWidth: 1.5 } },
    { type: 'text', x: 369, y: 189, style: { text: 'Calcite', font: '12px ' + FONT, fill: '#222', verticalAlign: 'middle' } }
  ]
});
</script>
</body>
</html>
